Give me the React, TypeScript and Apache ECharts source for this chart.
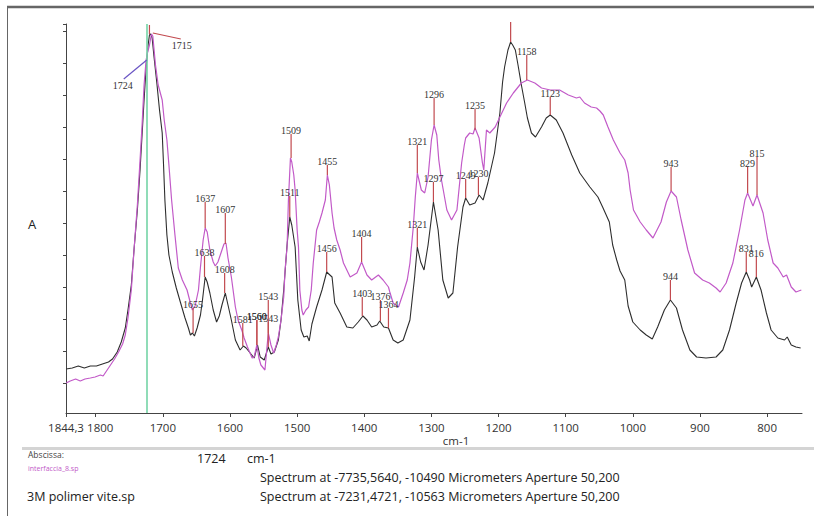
import React, { useEffect, useRef } from 'react';
import * as echarts from 'echarts';

// ---------- DATA (wavenumber cm-1, absorbance) ----------
const blackSpectrum: [number, number][] = [
  [1844,0.22],[1835,0.225],[1826,0.235],[1817,0.225],[1808,0.235],[1799,0.235],[1790,0.245],[1781,0.255],[1775,0.27],[1768,0.305],[1762,0.355],[1756,0.425],[1752,0.515],[1747,0.64],[1743,0.815],[1738,1.015],[1734,1.215],[1731,1.39],[1728,1.565],[1725,1.725],[1722,1.84],[1720,1.89],[1718,1.895],[1716,1.875],[1713,1.775],[1709,1.65],[1705,1.515],[1701,1.4],[1699,1.24],[1697,1.065],[1694,0.89],[1691,0.79],[1686,0.705],[1680,0.625],[1674,0.555],[1667,0.475],[1662,0.425],[1659,0.39],[1656,0.4],[1653,0.385],[1649,0.425],[1644,0.49],[1641,0.565],[1637,0.68],[1634,0.655],[1630,0.6],[1625,0.515],[1620,0.455],[1616,0.485],[1612,0.54],[1607,0.6],[1603,0.54],[1598,0.465],[1592,0.365],[1585,0.315],[1580,0.335],[1576,0.325],[1570,0.3],[1564,0.275],[1559,0.34],[1555,0.28],[1549,0.265],[1543,0.33],[1539,0.295],[1534,0.305],[1528,0.365],[1524,0.465],[1520,0.615],[1515,0.84],[1511,0.98],[1508,0.94],[1503,0.83],[1499,0.565],[1494,0.415],[1490,0.38],[1485,0.385],[1482,0.36],[1478,0.445],[1471,0.53],[1463,0.615],[1456,0.705],[1448,0.68],[1444,0.55],[1436,0.5],[1426,0.43],[1417,0.425],[1409,0.455],[1402,0.485],[1396,0.465],[1389,0.43],[1381,0.44],[1377,0.46],[1371,0.43],[1364,0.425],[1357,0.365],[1350,0.35],[1342,0.365],[1332,0.465],[1325,0.68],[1321,0.83],[1316,0.755],[1311,0.715],[1305,0.84],[1297,1.055],[1290,0.915],[1283,0.665],[1275,0.575],[1268,0.6],[1261,0.83],[1253,1.03],[1249,1.075],[1243,1.04],[1235,1.05],[1229,1.09],[1223,1.065],[1216,1.15],[1206,1.3],[1198,1.5],[1194,1.655],[1191,1.73],[1186,1.815],[1182,1.855],[1179,1.84],[1175,1.815],[1171,1.74],[1166,1.64],[1161,1.55],[1157,1.475],[1151,1.4],[1145,1.38],[1136,1.43],[1129,1.475],[1123,1.49],[1114,1.465],[1104,1.4],[1091,1.29],[1079,1.2],[1064,1.13],[1052,1.08],[1045,1.03],[1035,0.955],[1030,0.84],[1024,0.765],[1019,0.71],[1012,0.665],[1007,0.535],[1000,0.455],[989,0.415],[980,0.39],[971,0.37],[963,0.43],[953,0.515],[944,0.565],[935,0.525],[926,0.415],[915,0.315],[905,0.28],[891,0.275],[876,0.28],[866,0.315],[856,0.415],[846,0.55],[838,0.65],[831,0.705],[826,0.665],[823,0.63],[816,0.68],[809,0.615],[801,0.5],[794,0.415],[784,0.375],[774,0.365],[770,0.38],[764,0.34],[757,0.33],[750,0.325]
];

const magentaSpectrum: [number, number][] = [
  [1844,0.15],[1838,0.16],[1830,0.17],[1823,0.16],[1816,0.17],[1808,0.175],[1801,0.18],[1793,0.19],[1789,0.185],[1784,0.21],[1778,0.24],[1772,0.27],[1766,0.305],[1760,0.345],[1756,0.39],[1752,0.475],[1747,0.615],[1743,0.815],[1738,1.04],[1734,1.265],[1731,1.44],[1728,1.64],[1725,1.765],[1723,1.8],[1720,1.84],[1717,1.895],[1715,1.885],[1711,1.74],[1707,1.64],[1701,1.565],[1698,1.465],[1694,1.365],[1691,1.24],[1687,1.065],[1682,0.89],[1677,0.725],[1671,0.665],[1664,0.615],[1659,0.55],[1656,0.515],[1652,0.535],[1647,0.615],[1644,0.73],[1640,0.865],[1637,0.925],[1634,0.905],[1630,0.815],[1625,0.755],[1622,0.735],[1618,0.755],[1613,0.805],[1609,0.845],[1606,0.85],[1603,0.775],[1598,0.68],[1592,0.53],[1588,0.465],[1582,0.41],[1579,0.375],[1574,0.33],[1567,0.275],[1564,0.28],[1560,0.34],[1557,0.275],[1554,0.24],[1548,0.215],[1543,0.4],[1539,0.34],[1535,0.3],[1531,0.34],[1528,0.38],[1524,0.465],[1520,0.58],[1518,0.715],[1515,0.83],[1513,1.065],[1510,1.275],[1508,1.255],[1505,1.19],[1503,1.115],[1500,0.915],[1498,0.83],[1496,0.615],[1493,0.515],[1491,0.49],[1487,0.515],[1483,0.53],[1479,0.615],[1476,0.75],[1471,0.915],[1467,0.955],[1463,1.0],[1458,1.065],[1455,1.19],[1452,1.14],[1448,1.0],[1445,0.925],[1441,0.865],[1436,0.815],[1431,0.75],[1421,0.68],[1411,0.7],[1404,0.755],[1396,0.69],[1389,0.665],[1379,0.69],[1372,0.665],[1364,0.63],[1362,0.605],[1357,0.55],[1349,0.53],[1342,0.6],[1336,0.665],[1332,0.75],[1327,0.93],[1324,1.08],[1321,1.2],[1315,1.115],[1310,1.1],[1305,1.18],[1300,1.365],[1296,1.44],[1292,1.39],[1289,1.265],[1285,1.165],[1277,1.015],[1270,0.965],[1262,1.015],[1259,1.115],[1255,1.25],[1251,1.34],[1249,1.375],[1243,1.4],[1238,1.395],[1235,1.425],[1229,1.375],[1224,1.25],[1222,1.215],[1218,1.415],[1213,1.4],[1205,1.43],[1198,1.48],[1188,1.55],[1178,1.6],[1166,1.65],[1157,1.665],[1146,1.65],[1136,1.625],[1123,1.615],[1109,1.615],[1096,1.59],[1084,1.575],[1079,1.58],[1072,1.55],[1062,1.53],[1054,1.525],[1049,1.51],[1044,1.49],[1037,1.43],[1029,1.365],[1019,1.3],[1012,1.265],[1007,1.2],[1004,1.115],[999,1.015],[989,0.955],[980,0.915],[970,0.875],[958,0.955],[950,1.055],[943,1.11],[935,1.08],[928,0.965],[918,0.815],[908,0.7],[896,0.665],[886,0.65],[876,0.625],[870,0.605],[861,0.65],[851,0.75],[841,0.915],[833,1.065],[829,1.1],[821,1.035],[815,1.09],[806,1.0],[799,0.865],[791,0.75],[784,0.725],[776,0.68],[771,0.69],[764,0.63],[757,0.605],[749,0.615]
];

const blackPeakWn = [1720, 1655, 1638, 1608, 1581, 1560, 1543, 1511, 1456, 1403, 1376, 1364, 1321, 1297, 1249, 1230, 1182, 1123, 944, 831, 816];
const blackPeakAbs = [1.895, 0.40, 0.68, 0.60, 0.335, 0.34, 0.33, 0.98, 0.705, 0.485, 0.46, 0.425, 0.83, 1.055, 1.075, 1.09, 1.855, 1.49, 0.565, 0.705, 0.68];
const blackPeakLabels = ['', '1655', '1638', '1608', '1581', '1560', '1543', '1511', '1456', '1403', '1376', '1364', '1321', '1297', '1249', '1230', '', '1123', '944', '831', '816'];

const magentaPeakWn = [1637, 1607, 1560, 1543, 1509, 1455, 1404, 1321, 1296, 1235, 1158, 943, 829, 815];
const magentaPeakAbs = [0.925, 0.845, 0.34, 0.40, 1.275, 1.19, 0.755, 1.20, 1.44, 1.415, 1.665, 1.11, 1.10, 1.09];
const magentaPeakLabels = ['1637', '1607', '1560', '1543', '1509', '1455', '1404', '1321', '1296', '1235', '1158', '943', '829', '815'];

const calloutWn = [1724, 1715];
const calloutAbs = [1.765, 1.9];
const calloutLabels = ['1724', '1715'];

const cursorWn = 1724;
const xTickValues = [1844.3, 1800, 1700, 1600, 1500, 1400, 1300, 1200, 1100, 1000, 900, 800];
const yTickValues = [0.15, 0.31, 0.47, 0.63, 0.79, 0.95, 1.11, 1.27, 1.43, 1.59, 1.75, 1.91, 1.945];

const xTitle = 'cm-1';
const yTitle = 'A';
const cursorReadout = '1724';
const magentaFile = 'interfaccia_8.sp';
const blackFile = '3M polimer vite.sp';
const magentaInfo = 'Spectrum at -7735,5640, -10490 Micrometers Aperture 50,200';
const blackInfo = 'Spectrum at -7231,4721, -10563 Micrometers Aperture 50,200';

// ---------- STYLE ----------
const BLACK = '#2e2e2e';
const MAGENTA = '#c25ac8';
const STEM = '#c24a4f';
const SANS = '"Open Sans", "Noto Sans", sans-serif';
const SERIF = '"Liberation Serif", "DejaVu Serif", serif';
const stemLen: Record<string, number> = {
  k1720: 9, k1655: 25, k1638: 21, k1608: 20, k1581: 23, k1560: 25, k1543: 25, k1511: 21, k1456: 20,
  k1403: 19, k1376: 21, k1364: 20, k1321: 19, k1297: 20, k1249: 19, k1230: 18, k1182: 20, k1123: 18,
  k944: 20, k831: 20, k816: 20,
  m1637: 26, m1607: 31, m1560: 25, m1543: 33, m1509: 24, m1455: 10, m1404: 25, m1321: 28, m1296: 27,
  m1235: 21, m1158: 25, m943: 24, m829: 26, m815: 38,
};
const calloutGeom: Record<string, { dx: number; dy: number; lx: number; ly: number; color: string }> = {
  '1724': { dx: -23, dy: 19, lx: -24, ly: 25, color: '#6a55c4' },
  '1715': { dx: 28, dy: 6, lx: 29, ly: 12, color: STEM },
};

type Ann = { wn: number; abs: number; label: string; stem: number };

function buildAnns(prefix: string, wn: number[], abs: number[], labels: string[]): Ann[] {
  return wn.map((w, i) => ({ wn: w, abs: abs[i], label: labels[i], stem: stemLen[prefix + w] ?? 20 }));
}

function stemSeries(name: string, anns: Ann[]) {
  return {
    type: 'custom',
    name,
    silent: true,
    z: 4,
    encode: { x: 0, y: 1 },
    data: anns.map((a) => [a.wn, a.abs]),
    renderItem: (params: any, api: any) => {
      const a = anns[params.dataIndex];
      const p = api.coord([api.value(0), api.value(1)]);
      const children: any[] = [
        {
          type: 'line',
          shape: { x1: p[0], y1: p[1], x2: p[0], y2: p[1] - a.stem },
          style: { stroke: STEM, lineWidth: 1.2 },
        },
      ];
      if (a.label) {
        children.push({
          type: 'text',
          x: p[0],
          y: p[1] - a.stem + 1,
          style: {
            text: a.label,
            align: 'center',
            verticalAlign: 'bottom',
            fontSize: 10,
            fontFamily: SERIF,
            fill: '#333',
          },
        });
      }
      return { type: 'group', children };
    },
  };
}

function calloutSeries() {
  return {
    type: 'custom',
    name: 'callouts',
    silent: true,
    z: 5,
    encode: { x: 0, y: 1 },
    data: calloutWn.map((w, i) => [w, calloutAbs[i]]),
    renderItem: (params: any, api: any) => {
      const label = calloutLabels[params.dataIndex];
      const g = calloutGeom[label];
      const p = api.coord([api.value(0), api.value(1)]);
      return {
        type: 'group',
        children: [
          {
            type: 'line',
            shape: { x1: p[0], y1: p[1], x2: p[0] + g.dx, y2: p[1] + g.dy },
            style: { stroke: g.color, lineWidth: 1.2 },
          },
          {
            type: 'text',
            x: p[0] + g.lx,
            y: p[1] + g.ly,
            style: {
              text: label,
              align: 'center',
              verticalAlign: 'middle',
              fontSize: 10,
              fontFamily: SERIF,
              fill: '#333',
            },
          },
        ],
      };
    },
  };
}

function txt(text: string, x: number, y: number, size: number, fill: string, align = 'left') {
  return {
    type: 'text',
    x,
    y,
    z: 10,
    silent: true,
    style: { text, fontSize: size, fontFamily: SANS, fill, align, verticalAlign: 'middle' },
  };
}

export default function App() {
  const ref = useRef<HTMLDivElement>(null);

  useEffect(() => {
    if (!ref.current) return;
    const chart = echarts.init(ref.current, null, { renderer: 'svg' });
    const option: any = {
      animation: false,
      backgroundColor: '#ffffff',
      grid: { left: 66, right: 12, top: 24, bottom: 103, containLabel: false, outerBoundsMode: 'none' },
      xAxis: {
        type: 'value',
        inverse: true,
        min: 748,
        max: 1844.3,
        axisLine: { show: true, onZero: false, lineStyle: { color: '#444', width: 1 } },
        axisTick: { show: true, length: 4, customValues: xTickValues, lineStyle: { color: '#444' } },
        axisLabel: {
          show: true,
          customValues: xTickValues,
          margin: 8,
          color: '#333',
          fontSize: 11.5,
          fontFamily: SANS,
          formatter: (v: number) => (v > 1844 ? '1844,3' : v === 1800 ? '{s|1800}' : String(v)),
          rich: { s: { padding: [0, 0, 0, 9], fontSize: 11.5, fontFamily: SANS, color: '#333' } },
        },
        splitLine: { show: false },
      },
      yAxis: {
        type: 'value',
        min: 0,
        max: 1.945,
        axisLine: { show: true, lineStyle: { color: '#444', width: 1 } },
        axisTick: { show: true, length: 3, customValues: yTickValues, lineStyle: { color: '#444' } },
        axisLabel: { show: false },
        splitLine: { show: false },
      },
      series: [
        {
          type: 'line',
          name: blackFile,
          data: blackSpectrum,
          showSymbol: false,
          symbol: 'none',
          silent: true,
          z: 3,
          lineStyle: { color: BLACK, width: 1.1 },
        },
        {
          type: 'line',
          name: magentaFile,
          data: magentaSpectrum,
          showSymbol: false,
          symbol: 'none',
          silent: true,
          z: 3,
          lineStyle: { color: MAGENTA, width: 1.2 },
          markLine: {
            silent: true,
            symbol: 'none',
            label: { show: false },
            lineStyle: { color: '#74d4a6', width: 1.6, type: 'solid' },
            data: [{ xAxis: cursorWn }],
          },
        },
        stemSeries('black peaks', buildAnns('k', blackPeakWn, blackPeakAbs, blackPeakLabels)),
        stemSeries('magenta peaks', buildAnns('m', magentaPeakWn, magentaPeakAbs, magentaPeakLabels)),
        calloutSeries(),
      ],
      graphic: [
        { type: 'line', silent: true, shape: { x1: 7, y1: 7, x2: 814, y2: 7 }, style: { stroke: '#666', lineWidth: 2.5 } },
        { type: 'line', silent: true, shape: { x1: 7.5, y1: 7, x2: 7.5, y2: 516 }, style: { stroke: '#666', lineWidth: 1 } },
        { type: 'rect', silent: true, shape: { x: 22, y: 447, width: 792, height: 3 }, style: { fill: '#d4d4d4' } },
        txt(yTitle, 32, 224, 13, '#222', 'center'),
        txt(xTitle, 456, 440, 11.5, '#333', 'center'),
        txt('Abscissa:', 28, 454, 8.5, '#444'),
        txt(magentaFile, 28, 468, 7, MAGENTA),
        txt(cursorReadout, 197, 458, 12.5, '#222'),
        txt(xTitle, 247, 458, 12.5, '#222'),
        txt(magentaInfo, 260, 477, 12.5, '#222'),
        txt(blackFile, 27, 496, 12.5, '#222'),
        txt(blackInfo, 260, 496, 12.5, '#222'),
      ],
    };
    chart.setOption(option);
    return () => chart.dispose();
  }, []);

  return (
    <div
      ref={ref}
      style={{ position: 'fixed', left: 0, top: 0, width: '814px', height: '516px', background: '#fff' }}
    />
  );
}
